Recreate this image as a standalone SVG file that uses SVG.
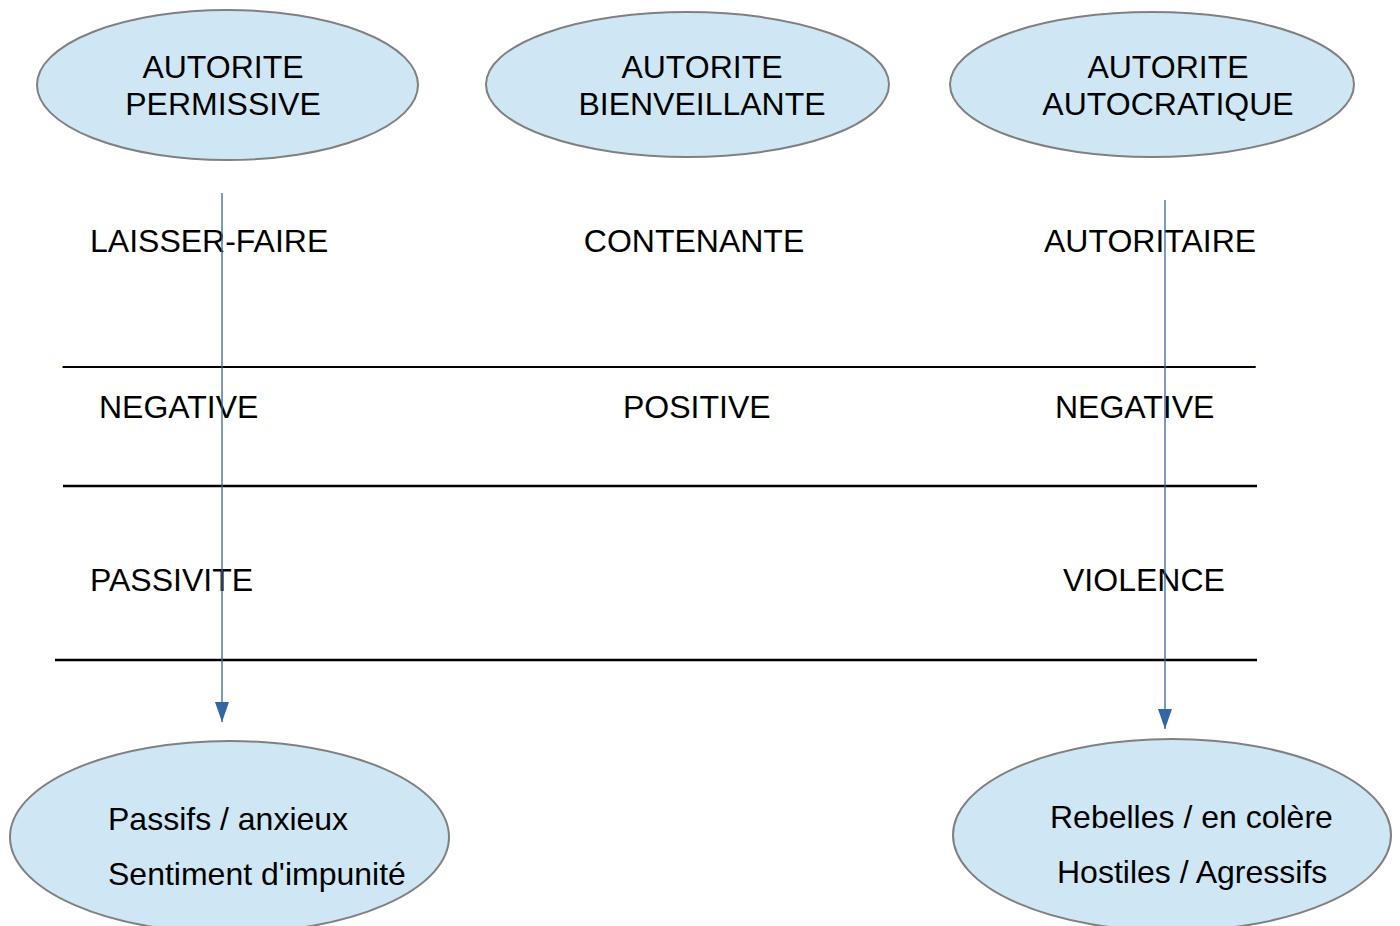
<svg xmlns="http://www.w3.org/2000/svg" width="1400" height="926" viewBox="0 0 1400 926">
<style>
.n{fill:#cfe7f5;stroke:#808080;stroke-width:2}
text{font-family:"Liberation Sans",Arial,sans-serif;font-size:32px;fill:#000}
.c{text-anchor:middle}
.rule{stroke:#000;stroke-width:2.5}
.conn{stroke:#3465a4;stroke-width:1.3;fill:none;marker-end:url(#ah)}
</style>
<defs>
<marker id="ah" markerUnits="userSpaceOnUse" markerWidth="20" markerHeight="14" refX="20" refY="7" orient="auto" viewBox="0 0 20 14">
<path d="M0,0 L20,7 L0,14 Z" fill="#3465a4"/>
</marker>
</defs>
<rect width="1400" height="926" fill="#fff"/>
<g id="n-permissive"><ellipse class="n" cx="227.5" cy="85" rx="190.5" ry="75"/><text class="c" x="223" y="78">AUTORITE</text><text class="c" x="223" y="115">PERMISSIVE</text></g>
<g id="n-bienveillante"><ellipse class="n" cx="687.5" cy="84.5" rx="201.5" ry="72.5"/><text class="c" x="702" y="78">AUTORITE</text><text class="c" x="702" y="115">BIENVEILLANTE</text></g>
<g id="n-autocratique"><ellipse class="n" cx="1152" cy="84.5" rx="202" ry="72.5"/><text class="c" x="1168" y="78">AUTORITE</text><text class="c" x="1168" y="115">AUTOCRATIQUE</text></g>
<g id="n-passifs"><ellipse class="n" cx="229.5" cy="837" rx="219.5" ry="96"/><text x="108" y="830">Passifs / anxieux</text><text x="108" y="885">Sentiment d'impunité</text></g>
<g id="n-rebelles"><ellipse class="n" cx="1172" cy="835" rx="219" ry="96"/><text x="1050" y="828">Rebelles / en colère</text><text x="1057" y="883">Hostiles / Agressifs</text></g>
<g id="labels">
<text x="90" y="252">LAISSER-FAIRE</text>
<text class="c" x="694" y="252">CONTENANTE</text>
<text x="1044" y="252">AUTORITAIRE</text>
<text x="63" y="362">___________________________________________________________________</text>
<text x="99" y="418">NEGATIVE</text>
<text x="623" y="418">POSITIVE</text>
<text x="1055" y="418">NEGATIVE</text>
<text x="90" y="591">PASSIVITE</text>
<text x="1063" y="591">VIOLENCE</text>
</g>
<g id="rules">
<line class="rule" x1="63" y1="486" x2="1257" y2="486"/>
<line class="rule" x1="55" y1="660" x2="1257" y2="660"/>
</g>
<g id="connectors">
<line class="conn" x1="222" y1="193" x2="222" y2="722"/>
<line class="conn" x1="1165" y1="200" x2="1165" y2="729"/>
</g>
</svg>
